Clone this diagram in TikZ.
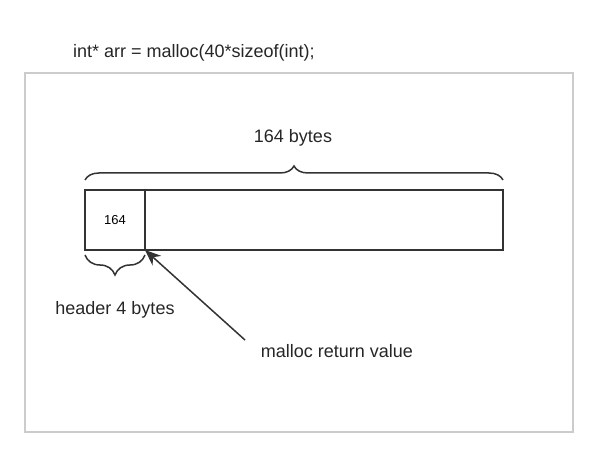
\documentclass[tikz,border=0pt]{standalone}
\usepackage{fontspec}
\setmainfont{Liberation Sans}
\usetikzlibrary{decorations.pathreplacing,arrows.meta}

\definecolor{linegray}{HTML}{333333}
\definecolor{framegray}{HTML}{CCCCCC}

\tikzset{
    cell/.style={draw=linegray, line width=2pt, minimum height=60pt, inner sep=0pt, outer sep=0pt},
    bracket/.style={draw=linegray, line width=1.5pt, decorate},
    label/.style={font=\fontsize{18}{21}\selectfont, text=black!85}
}

\begin{document}
\begin{tikzpicture}[x=1pt, y=1pt]
    \useasboundingbox (0,0) rectangle (589,458);

    % Outer frame and the line of code
    \draw[framegray, line width=2pt] (25,26) rectangle (573,385);
    \node[label, anchor=west, inner sep=0pt] (code) at (73,405) {int* arr = malloc(40*sizeof(int);};

    % The allocated block: header and data
    \node[cell, minimum width=60pt, font=\fontsize{13}{15}\selectfont] (header) at (115,238) {164};
    \node[cell, minimum width=358pt, anchor=west] (data) at (header.east) {};

    % Braces over the block and under the header
    \draw[bracket, decoration={brace, amplitude=14pt}] ([yshift=10pt]header.north west) -- ([yshift=10pt]data.north east)
        node[midway] (total) {};
    \draw[bracket, decoration={brace, amplitude=20pt}] ([yshift=-5pt]header.south east) -- ([yshift=-5pt]header.south west)
        node[midway] (hdrbrace) {};

    % Labels
    \node[label] (totallabel) at (293,320) {164 bytes};
    \node[label] (hdrlabel) at (115,148) {header 4 bytes};
    \node[label] (retlabel) at (337,107) {malloc return value};

    % Arrow to the start of the data
    \coordinate (tail) at (245,118);
    \draw[linegray, line width=1.5pt, -{Stealth[length=16pt, width=13pt]}] (tail) -- (header.south east);
\end{tikzpicture}
\end{document}
